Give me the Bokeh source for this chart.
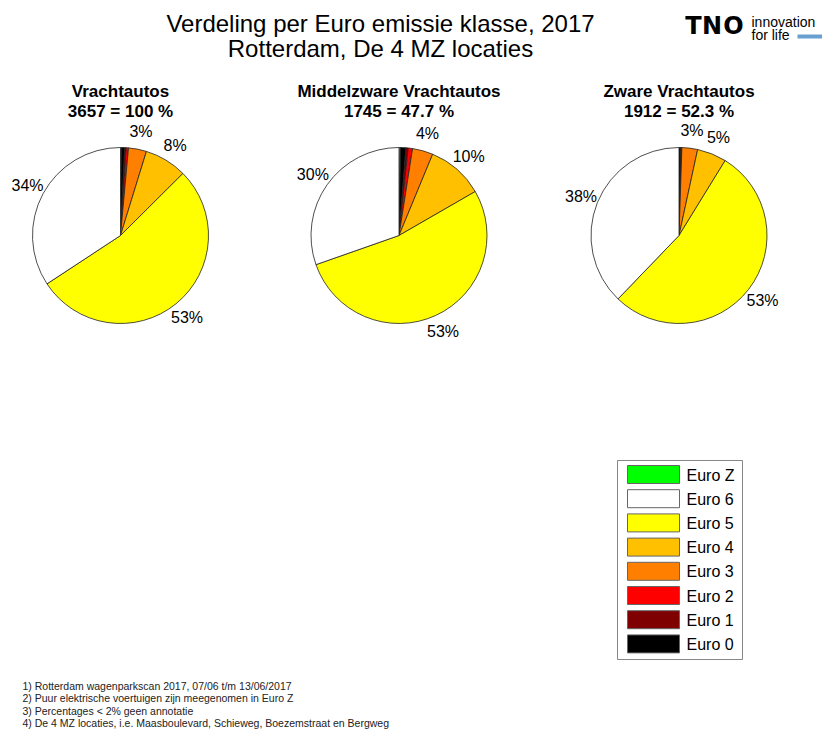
import numpy as np
from bokeh.plotting import figure
from bokeh.models import Range1d
from bokeh.core.properties import value
from bokeh.embed import file_html
from bokeh.resources import INLINE

# ---- data ----
klassen = ["Euro Z", "Euro 0", "Euro 1", "Euro 2", "Euro 3", "Euro 4", "Euro 5", "Euro 6"]
kleuren = ["#00ff00", "#000000", "#7f0000", "#ff0000", "#ff8000", "#ffc000", "#ffff00", "#ffffff"]
vrachtautos = [5, 23, 10, 15, 121, 285, 1945, 1253]
middelzwaar = [5, 17, 7, 14, 66, 182, 924, 530]
zwaar = [0, 6, 3, 1, 55, 103, 1021, 723]
series = [vrachtautos, middelzwaar, zwaar]
titels = ["Vrachtautos", "Middelzware Vrachtautos", "Zware Vrachtautos"]
ondertitels = ["3657 = 100 %", "1745 = 47.7 %", "1912 = 52.3 %"]
legenda = ["Euro Z", "Euro 6", "Euro 5", "Euro 4", "Euro 3", "Euro 2", "Euro 1", "Euro 0"]
titel = ["Verdeling per Euro emissie klasse, 2017", "Rotterdam, De 4 MZ locaties"]
voetnoten = [
    "1) Rotterdam wagenparkscan 2017, 07/06 t/m 13/06/2017",
    "2) Puur elektrische voertuigen zijn meegenomen in Euro Z",
    "3) Percentages < 2% geen annotatie",
    "4) De 4 MZ locaties, i.e. Maasboulevard, Schieweg, Boezemstraat en Bergweg",
]

W, H = 822, 729
FONT = value("Liberation Sans")

p = figure(width=W, height=H, x_range=Range1d(0, W), y_range=Range1d(-H, 0),
           output_backend="svg", toolbar_location=None, x_axis_location=None,
           y_axis_location=None, min_border=0, outline_line_color=None)
p.grid.visible = False
p.background_fill_color = "white"


def T(x, y, txt, size, align="center", baseline="middle", style="normal", color="black", font=FONT):
    p.text(x=[x], y=[-y], text=[txt], text_font=font, text_font_size=size,
           text_align=align, text_baseline=baseline, text_font_style=style, text_color=color)


# ---- titles ----
T(380, 22.5, titel[0], "24px")
T(380, 47.5, titel[1], "24px")

# ---- TNO logo ----
for letter, lx in zip("TNO", [693, 711.5, 733]):
    T(lx, 25, letter, "24px", style="bold", font=value("DejaVu Sans"))
T(751, 21.5, "innovation", "14px", align="left")
T(751, 34, "for life", "14px", align="left")
p.quad(left=[797], right=[W], top=[-34], bottom=[-38], fill_color="#6a9fd2", line_color=None)

# ---- pies ----
centers = [(120, 235), (398.5, 235), (678.5, 235)]
R = 88
for (cx, cy), vals, t1, t2 in zip(centers, series, titels, ondertitels):
    v = np.array(vals, dtype=float)
    frac = v / v.sum()
    cum = np.concatenate([[0.0], np.cumsum(frac)])
    start = np.pi / 2 - 2 * np.pi * cum[:-1]
    end = np.pi / 2 - 2 * np.pi * cum[1:]
    m = v > 0
    p.wedge(x=cx, y=-cy, radius=R, start_angle=start[m], end_angle=end[m], direction="clock",
            fill_color=list(np.array(kleuren)[m]), line_color="#222222", line_width=0.8)
    mid = (start + end) / 2
    for f, a in zip(frac, mid):
        if f * 100 >= 2:
            T(cx + 1.2 * R * np.cos(a), cy - 1.2 * R * np.sin(a), f"{round(f * 100)}%", "16px")
    T(cx, 91, t1, "17px", style="bold")
    T(cx, 110.5, t2, "17px", style="bold")

# ---- legend ----
p.quad(left=[617], right=[742], top=[-460], bottom=[-659], fill_color="white", line_color="#888888", line_width=1)
kleur_van = dict(zip(klassen, kleuren))
for i, lab in enumerate(legenda):
    top = 465 + 24.2 * i
    p.quad(left=[627], right=[679], top=[-top], bottom=[-(top + 18)], fill_color=kleur_van[lab],
           line_color="#666666", line_width=1)
    T(686, top + 9.5, lab, "16px", align="left")

# ---- footnotes ----
for i, line in enumerate(voetnoten):
    T(22, 685 + 12.6 * i, line, "10.5px", align="left", color="#222222")

open("out.html", "w").write(file_html(p, INLINE))
